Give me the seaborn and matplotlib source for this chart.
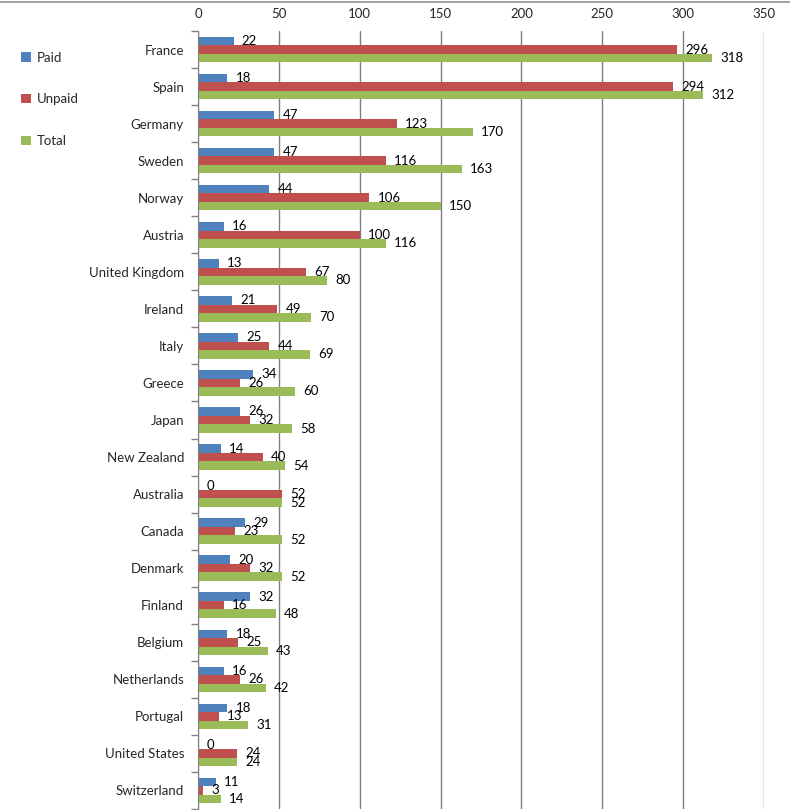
import pandas as pd
import numpy as np
import seaborn as sns
import matplotlib.pyplot as plt
from matplotlib.lines import Line2D
from matplotlib.patches import Patch

# data
countries = ['France', 'Spain', 'Germany', 'Sweden', 'Norway', 'Austria',
             'United Kingdom', 'Ireland', 'Italy', 'Greece', 'Japan',
             'New Zealand', 'Australia', 'Canada', 'Denmark', 'Finland',
             'Belgium', 'Netherlands', 'Portugal', 'United States', 'Switzerland']
paid = [22, 18, 47, 47, 44, 16, 13, 21, 25, 34, 26, 14, 0, 29, 20, 32, 18, 16, 18, 0, 11]
unpaid = [296, 294, 123, 116, 106, 100, 67, 49, 44, 26, 32, 40, 52, 23, 32, 16, 25, 26, 13, 24, 3]
total = [318, 312, 170, 163, 150, 116, 80, 70, 69, 60, 58, 54, 52, 52, 52, 48, 43, 42, 31, 24, 14]
series = ['Paid', 'Unpaid', 'Total']
colors = ['#4F81BD', '#C0504D', '#9BBB59']

df = pd.DataFrame({'Country': countries, 'Paid': paid, 'Unpaid': unpaid, 'Total': total})
long = df.melt(id_vars='Country', value_vars=series, var_name='Type', value_name='Days')

sns.set_style('white')
plt.rcParams['font.family'] = ['Lato', 'DejaVu Sans']

fig = plt.figure(figsize=(7.9, 8.1), dpi=100)
ax = fig.add_axes([198 / 790, 1 - 809 / 810, 566 / 790, 778 / 810])

sns.barplot(data=long, y='Country', x='Days', hue='Type', order=countries,
            hue_order=series, palette=colors, width=0.69, orient='h',
            saturation=1, legend=False, ax=ax, errorbar=None, linewidth=0)

for cont in ax.containers:
    ax.bar_label(cont, padding=6, fontsize=9.5, color='black')

ax.set_xlim(0, 350)
ax.set_ylim(len(countries) - 0.5, -0.5)
ax.set_xticks(np.arange(0, 351, 50))
ax.xaxis.tick_top()
ax.tick_params(axis='x', length=0, labelsize=9.5, pad=8)
ax.set_xlabel('')
ax.set_ylabel('')

# category ticks at the boundaries, labels centred
ax.set_yticks(np.arange(len(countries)))
ax.set_yticks(np.arange(len(countries) + 1) - 0.5, minor=True)
ax.tick_params(axis='y', which='major', length=0, labelsize=9.5, pad=10)
ax.tick_params(axis='y', which='minor', length=5, color='#808080', width=1, left=True)

ax.grid(axis='x', color='#808080', linewidth=1)
ax.set_axisbelow(True)
for s in ['top', 'right', 'bottom']:
    ax.spines[s].set_visible(False)
ax.spines['left'].set_color('#808080')

handles = [Patch(facecolor=c, edgecolor='none') for c in colors]
fig.legend(handles, series, loc='upper left', bbox_to_anchor=(0.012, 0.951),
           frameon=False, fontsize=9.5, handlelength=0.75, handleheight=0.75,
           handletextpad=0.4, labelspacing=2.25)

fig.add_artist(Line2D([0, 1], [1 - 1.5 / 810, 1 - 1.5 / 810], color='#909090', linewidth=1.2))

fig.savefig('out.png', dpi=100)
